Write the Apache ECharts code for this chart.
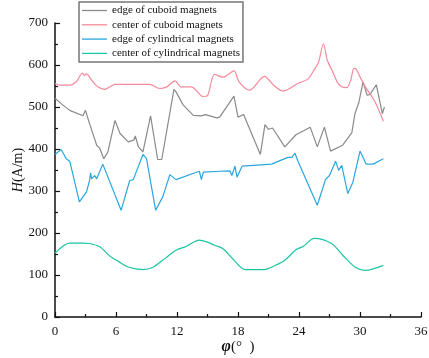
<!DOCTYPE html>
<html lang="en">
<head>
    <meta charset="utf-8">
    <title>H vs phi</title>
    <script type="text/javascript" src="https://cdn.jsdelivr.net/npm/echarts@6/dist/echarts.min.js"></script>
    <style>
        html, body { margin: 0; padding: 0; background: #fff; }
        #main { width: 429px; height: 358px; }
    </style>
</head>
<body>
<div id="main"></div>

<script>
    // data: phi (deg) and H (A/m)
    var edgeCuboidPhi = [0, 0.6, 1.45, 2.75, 3.0, 3.35, 4.1, 4.4, 4.8, 5.2, 5.9, 6.4, 7.2, 7.75, 7.9, 8.2, 8.65, 9.4, 10.1, 10.5, 11.7, 11.9, 12.6, 13.6, 14.4, 14.8, 15.9, 16.2, 17.6, 18.0, 18.55, 20.2, 20.65, 21.0, 21.4, 22.6, 23.7, 25.1, 25.8, 26.5, 27.1, 28.3, 29.2, 29.5, 29.9, 30.3, 30.7, 31.0, 31.6, 32.2, 32.4];
    var edgeCuboidH = [521, 508, 492, 479, 492, 464, 409, 402, 377, 393, 468, 437, 417, 421, 431, 405, 393, 479, 375, 375, 542, 536, 505, 480, 479, 482, 474, 476, 526, 476, 482, 387, 458, 447, 450, 405, 434, 452, 405, 452, 395, 409, 439, 484, 512, 560, 528, 530, 553, 484, 500];

    var centerCuboidPhi = [0, 0.5, 1.45, 2.1, 2.7, 2.9, 3.1, 3.6, 4.2, 4.9, 5.4, 5.9, 9.3, 10.3, 11.0, 11.8, 12.4, 13.4, 14.6, 15.0, 15.7, 16.5, 17.6, 18.1, 19.15, 20.6, 21.5, 22.4, 23.9, 24.9, 25.4, 25.9, 26.4, 26.8, 27.3, 27.8, 28.2, 28.7, 29.1, 29.4, 29.6, 30.1, 30.6, 31.4, 32.3];
    var centerCuboidH = [556, 552, 552, 560, 581, 575, 579, 564, 548, 542, 548, 554, 554, 544, 548, 562, 548, 548, 525, 527, 578, 571, 586, 560, 540, 573, 552, 538, 556, 567, 585, 605, 650, 610, 585, 558, 548, 546, 565, 592, 591, 567, 545, 516, 466];

    var edgeCylPhi = [0, 0.6, 1.1, 1.45, 2.4, 3.1, 3.4, 3.5, 3.6, 3.9, 4.1, 4.7, 6.5, 7.35, 7.7, 8.65, 9.0, 9.9, 10.6, 11.3, 11.9, 14.2, 14.4, 14.6, 16.2, 17.2, 17.4, 17.7, 17.9, 18.4, 21.3, 22.9, 23.3, 23.6, 23.9, 24.0, 25.8, 26.6, 27.0, 27.6, 27.9, 28.2, 28.8, 29.3, 30.0, 30.6, 31.3, 32.3];
    var edgeCylH = [387, 399, 377, 371, 274, 298, 325, 343, 329, 337, 329, 364, 254, 325, 327, 387, 377, 254, 286, 339, 327, 347, 327, 345, 347, 348, 337, 359, 333, 359, 364, 380, 380, 390, 371, 369, 266, 327, 337, 371, 349, 361, 294, 321, 395, 364, 364, 377];

    var centerCylPhi = [0, 1.45, 2.75, 3.4, 4.4, 5.4, 6.2, 7.2, 8.65, 9.6, 10.8, 11.9, 12.9, 14.2, 14.9, 15.7, 16.5, 17.5, 18.7, 20.6, 21.6, 22.6, 23.7, 24.4, 25.5, 27.2, 28.3, 29.5, 30.5, 32.3];
    var centerCylH = [152, 176, 176, 175, 167, 145, 133, 119, 113, 118, 139, 159, 168, 183, 179, 171, 163, 138, 113, 113, 122, 135, 160, 168, 187, 175, 147, 119, 111, 123];

    var seriesNames = ['edge of cuboid magnets', 'center of cuboid magnets', 'edge of cylindrical magnets', 'center of cylindrical magnets'];
    var seriesColors = ['#8a8a8a', '#f4899b', '#2aa6df', '#1cc5a4'];

    function pairs(xs, ys) {
        var out = [];
        for (var i = 0; i < xs.length; i++) {
            out.push([xs[i], ys[i]]);
        }
        return out;
    }

    var allData = [
        pairs(edgeCuboidPhi, edgeCuboidH),
        pairs(centerCuboidPhi, centerCuboidH),
        pairs(edgeCylPhi, edgeCylH),
        pairs(centerCylPhi, centerCylH)
    ];
    var smoothing = [false, 0.3, false, 0.3];

    var serif = 'Liberation Serif';
    var chartDom = document.getElementById('main');
    var myChart = echarts.init(chartDom);
    var option;

    option = {
        animation: false,
        backgroundColor: '#fff',
        grid: {
            left: 55,
            right: 8,
            top: 23,
            bottom: 41,
            containLabel: false,
            outerBoundsMode: 'none'
        },
        legend: {
            orient: 'vertical',
            left: 79,
            top: 2,
            padding: [3, 3, 3, 3],
            icon: 'rect',
            itemWidth: 25,
            itemHeight: 1.3,
            itemGap: 3.3,
            borderColor: '#777',
            borderWidth: 1.5,
            borderRadius: 0,
            backgroundColor: '#fff',
            textStyle: { fontFamily: serif, fontSize: 11, color: '#111' },
            data: seriesNames
        },
        xAxis: {
            type: 'value',
            min: 0,
            max: 36,
            interval: 6,
            name: '{p|φ}(°  )',
            nameLocation: 'middle',
            nameGap: 22,
            nameMoveOverlap: false,
            nameTextStyle: {
                fontFamily: serif,
                fontSize: 15,
                color: '#111',
                rich: {
                    p: { fontFamily: serif, fontSize: 16, fontStyle: 'italic', fontWeight: 'bold', color: '#111' }
                }
            },
            axisLine: { lineStyle: { color: '#111', width: 1.5 } },
            axisTick: { inside: true, length: 5, lineStyle: { color: '#111', width: 1.2 } },
            minorTick: { show: true, splitNumber: 2, length: 3, lineStyle: { color: '#111', width: 1.2 } },
            axisLabel: { fontFamily: serif, fontSize: 13, color: '#111', margin: 8 },
            splitLine: { show: false }
        },
        yAxis: {
            type: 'value',
            min: 0,
            max: 700,
            interval: 100,
            name: '{i|H}(A/m)',
            nameLocation: 'middle',
            nameRotate: 90,
            nameGap: 30,
            nameMoveOverlap: false,
            nameTextStyle: {
                fontFamily: serif,
                fontSize: 14,
                color: '#111',
                rich: {
                    i: { fontFamily: serif, fontSize: 14, fontStyle: 'italic', color: '#111' }
                }
            },
            axisLine: { show: true, lineStyle: { color: '#111', width: 1.5 } },
            axisTick: { show: true, inside: true, length: 5, lineStyle: { color: '#111', width: 1.2 } },
            minorTick: { show: true, splitNumber: 2, length: 3, lineStyle: { color: '#111', width: 1.2 } },
            axisLabel: { fontFamily: serif, fontSize: 13, color: '#111', margin: 7 },
            splitLine: { show: false }
        },
        series: seriesNames.map(function (name, k) {
            return {
                name: name,
                type: 'line',
                data: allData[k],
                smooth: smoothing[k],
                symbol: 'none',
                color: seriesColors[k],
                lineStyle: { color: seriesColors[k], width: 1.2 }
            };
        })
    };
    myChart.setOption(option);
</script>
</body>
</html>
